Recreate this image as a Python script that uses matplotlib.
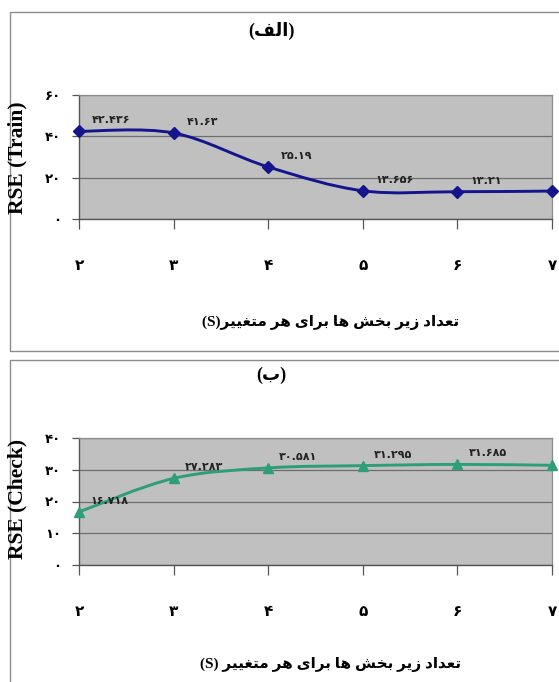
import matplotlib
matplotlib.use("Agg")
import matplotlib.pyplot as plt
from matplotlib.path import Path
from matplotlib.patches import PathPatch, Rectangle

# ---------------- data ----------------
s_values = [2, 3, 4, 5, 6, 7]
train_rse = [42.436, 41.63, 25.19, 13.656, 13.21, 13.52]
check_rse = [16.718, 27.283, 30.581, 31.295, 31.685, 31.402]
train_yticks = [0, 20, 40, 60]
check_yticks = [0, 10, 20, 30, 40]
title_train = "(الف)"
title_check = "(ب)"
xlabel_text = "تعداد زیر بخش ها برای هر متغییر"
ylabel_train = "RSE (Train)"
ylabel_check = "RSE (Check)"

# ---------------- helpers ----------------
FORMS = {
    'ا': ('\uFE8D', '\uFE8E', None, None),
    'ب': ('\uFE8F', '\uFE90', '\uFE91', '\uFE92'),
    'ت': ('\uFE95', '\uFE96', '\uFE97', '\uFE98'),
    'خ': ('\uFEA5', '\uFEA6', '\uFEA7', '\uFEA8'),
    'د': ('\uFEA9', '\uFEAA', None, None),
    'ر': ('\uFEAD', '\uFEAE', None, None),
    'ز': ('\uFEAF', '\uFEB0', None, None),
    'ش': ('\uFEB5', '\uFEB6', '\uFEB7', '\uFEB8'),
    'ع': ('\uFEC9', '\uFECA', '\uFECB', '\uFECC'),
    'غ': ('\uFECD', '\uFECE', '\uFECF', '\uFED0'),
    'ف': ('\uFED1', '\uFED2', '\uFED3', '\uFED4'),
    'ل': ('\uFEDD', '\uFEDE', '\uFEDF', '\uFEE0'),
    'م': ('\uFEE1', '\uFEE2', '\uFEE3', '\uFEE4'),
    'ه': ('\uFEE9', '\uFEEA', '\uFEEB', '\uFEEC'),
    'ی': ('\uFBFC', '\uFBFD', '\uFBFE', '\uFBFF'),
}


def shape_rtl(text):
    out = []
    n = len(text)
    for i, ch in enumerate(text):
        if ch not in FORMS:
            out.append(ch)
            continue
        prev = text[i - 1] if i > 0 else None
        nxt = text[i + 1] if i < n - 1 else None
        jp = prev in FORMS and FORMS[prev][2] is not None
        jn = nxt in FORMS and FORMS[ch][2] is not None
        iso, fin, ini, med = FORMS[ch]
        if jp and jn:
            out.append(med)
        elif jp:
            out.append(fin)
        elif jn:
            out.append(ini)
        else:
            out.append(iso)
    return ''.join(out)[::-1]


def visual(text):
    # surrounding parentheses are mirrored in right-to-left text
    if text.startswith('(') and text.endswith(')'):
        return '(' + shape_rtl(text[1:-1]) + ')'
    return shape_rtl(text)


PDIG = str.maketrans('0123456789', '۰۱۲۳۴۵۶۷۸۹')


def pnum(v):
    s = ('%g' % v) if not isinstance(v, str) else v
    return s.translate(PDIG)


def smooth_path(xs, ys):
    pts = list(zip(xs, ys))
    verts = [pts[0]]
    codes = [Path.MOVETO]
    n = len(pts)
    for i in range(n - 1):
        p0 = pts[i - 1] if i > 0 else pts[i]
        p1 = pts[i]
        p2 = pts[i + 1]
        p3 = pts[i + 2] if i + 2 < n else pts[i + 1]
        c1 = (p1[0] + (p2[0] - p0[0]) / 6, p1[1] + (p2[1] - p0[1]) / 6)
        c2 = (p2[0] - (p3[0] - p1[0]) / 6, p2[1] - (p3[1] - p1[1]) / 6)
        verts += [c1, c2, p2]
        codes += [Path.CURVE4] * 3
    return Path(verts, codes)


FAM_MIX = ['Liberation Serif', 'DejaVu Sans']
FAM_AR = ['DejaVu Sans']

W, H = 559, 682
fig = plt.figure(figsize=(W / 100, H / 100), dpi=100)
fig.patch.set_facecolor('white')


def fx(px):
    return px / W


def fy(py):
    return 1 - py / H


# outer chart frames
for (y0, y1) in [(12, 351), (360, 720)]:
    fig.patches.append(Rectangle((fx(10), fy(y1)), fx(600) - fx(10), fy(y0) - fy(y1),
                                 transform=fig.transFigure, fill=False,
                                 edgecolor='#8c8c8c', linewidth=1.0))


def make_panel(top, bottom, values, yticks, color, marker, msize, title, title_y,
               ylabel, ylabel_y, xlabel, xlabel_y, label_off):
    ax = fig.add_axes([fx(79), fy(bottom), fx(552) - fx(79), fy(top) - fy(bottom)])
    ax.set_facecolor('#c0c0c0')
    ax.set_xlim(s_values[0], s_values[-1])
    ax.set_ylim(yticks[0], yticks[-1])
    ax.set_yticks(yticks)
    ax.set_yticklabels([pnum(t) for t in yticks], family=FAM_AR, fontsize=9.5, fontweight='bold')
    ax.set_xticks(s_values)
    ax.set_xticklabels([pnum(s) for s in s_values], family=FAM_AR, fontsize=11, fontweight='bold')
    ax.grid(axis='y', color='#6e6e6e', linewidth=0.9)
    ax.set_axisbelow(True)
    for side in ['top', 'right']:
        ax.spines[side].set_color('#8c8c8c')
        ax.spines[side].set_linewidth(0.9)
    for side in ['left', 'bottom']:
        ax.spines[side].set_color('#555555')
        ax.spines[side].set_linewidth(1.0)
    ax.tick_params(axis='y', length=5, width=0.9, color='#555555', pad=8)
    ax.tick_params(axis='x', length=7, width=0.9, color='#555555', pad=21)
    path = smooth_path(s_values, values)
    ax.add_patch(PathPatch(path, facecolor='none', edgecolor=color, linewidth=2.1,
                           clip_on=False, zorder=3))
    ax.plot(s_values, values, linestyle='none', marker=marker, markersize=msize,
            color=color, clip_on=False, zorder=4)
    for xv, yv in zip(s_values, values):
        ax.annotate(pnum(yv), (xv, yv), xytext=label_off, textcoords='offset pixels',
                    ha='left', va='bottom', fontsize=8, fontweight='bold',
                    family=FAM_AR, color='#222222', annotation_clip=False, zorder=5)
    fig.text(fx(271), fy(title_y), visual(title), ha='center', va='center',
             family=FAM_MIX, fontsize=13, fontweight='bold')
    fig.text(fx(17), fy(ylabel_y), ylabel, rotation=90, ha='center', va='center',
             family=FAM_MIX, fontsize=15.5, fontweight='bold')
    fig.text(fx(331), fy(xlabel_y), xlabel, ha='center', va='center',
             family=FAM_MIX, fontsize=11, fontweight='bold')
    return ax


make_panel(95, 219, train_rse, train_yticks, '#14148c', 'D', 6.5, title_train, 31,
           ylabel_train, 158, '(S)' + visual(xlabel_text), 323, (13, 6))
make_panel(438, 565, check_rse, check_yticks, '#2e9e78', '^', 7.5, title_check, 375,
           ylabel_check, 499, '(S) ' + visual(xlabel_text), 665, (11, 6))

fig.savefig('out.png', dpi=100, facecolor='white')
